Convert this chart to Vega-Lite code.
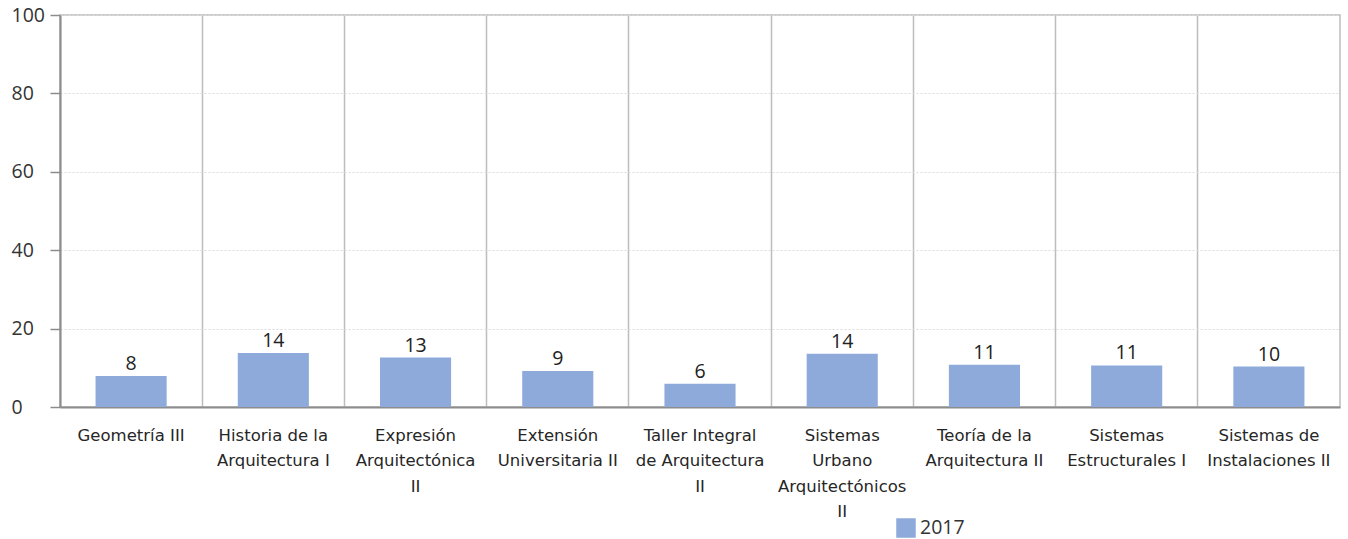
{
  "$schema": "https://vega.github.io/schema/vega-lite/v6.json",
  "width": 1280,
  "height": 392,
  "autosize": {"type": "none"},
  "padding": {"left": 60, "top": 15, "right": 8, "bottom": 132},
  "background": "white",
  "config": {
    "view": {"stroke": "#bdbdbd", "strokeWidth": 1.5},
    "font": "Open Sans"
  },
  "data": {
    "values": [
      {"asignatura": "Geometría III", "valor": 7.9, "anio": "2017"},
      {"asignatura": "Historia de la Arquitectura I", "valor": 13.8, "anio": "2017"},
      {"asignatura": "Expresión Arquitectónica II", "valor": 12.6, "anio": "2017"},
      {"asignatura": "Extensión Universitaria II", "valor": 9.2, "anio": "2017"},
      {"asignatura": "Taller Integral de Arquitectura II", "valor": 5.9, "anio": "2017"},
      {"asignatura": "Sistemas Urbano Arquitectónicos II", "valor": 13.6, "anio": "2017"},
      {"asignatura": "Teoría de la Arquitectura II", "valor": 10.8, "anio": "2017"},
      {"asignatura": "Sistemas Estructurales I", "valor": 10.6, "anio": "2017"},
      {"asignatura": "Sistemas de Instalaciones II", "valor": 10.3, "anio": "2017"}
    ]
  },
  "encoding": {
    "x": {
      "field": "asignatura",
      "type": "nominal",
      "sort": null,
      "scale": {"paddingInner": 0, "paddingOuter": 0},
      "axis": {
        "title": null,
        "labelAngle": 0,
        "labelFont": "DejaVu Sans",
        "labelFontSize": 16.5,
        "labelColor": "#262626",
        "labelPadding": 20,
        "labelLineHeight": 25.5,
        "labelBaseline": "top",
        "labelLimit": 200,
        "ticks": false,
        "domainColor": "#8c8c8c",
        "domainWidth": 2,
        "grid": true,
        "gridColor": "#bdbdbd",
        "gridWidth": 1.5,
        "bandPosition": 0,
        "labelExpr": "datum.value == 'Historia de la Arquitectura I' ? ['Historia de la', 'Arquitectura I'] : datum.value == 'Expresión Arquitectónica II' ? ['Expresión', 'Arquitectónica', 'II'] : datum.value == 'Extensión Universitaria II' ? ['Extensión', 'Universitaria II'] : datum.value == 'Taller Integral de Arquitectura II' ? ['Taller Integral', 'de Arquitectura', 'II'] : datum.value == 'Sistemas Urbano Arquitectónicos II' ? ['Sistemas', 'Urbano', 'Arquitectónicos', 'II'] : datum.value == 'Teoría de la Arquitectura II' ? ['Teoría de la', 'Arquitectura II'] : datum.value == 'Sistemas Estructurales I' ? ['Sistemas', 'Estructurales I'] : datum.value == 'Sistemas de Instalaciones II' ? ['Sistemas de', 'Instalaciones II'] : datum.value"
      }
    },
    "y": {
      "field": "valor",
      "type": "quantitative",
      "scale": {"domain": [0, 100], "nice": false},
      "axis": {
        "title": null,
        "values": [0, 20, 40, 60, 80, 100],
        "labelFont": "Open Sans",
        "labelFontSize": 19.5,
        "labelColor": "#333333",
        "labelAlign": "left",
        "labelPadding": 39,
        "tickSize": 10,
        "tickColor": "#8c8c8c",
        "tickWidth": 1.5,
        "domainColor": "#8c8c8c",
        "domainWidth": 2,
        "grid": true,
        "gridColor": "#dcdcdc",
        "gridDash": [2, 2],
        "gridWidth": 1.2
      }
    }
  },
  "layer": [
    {
      "mark": {"type": "bar", "width": {"band": 0.5}},
      "encoding": {
        "color": {
          "field": "anio",
          "type": "nominal",
          "scale": {"range": ["#8eaadb"]},
          "legend": {
            "title": null,
            "orient": "none",
            "legendX": 836,
            "legendY": 503,
            "symbolType": "square",
            "symbolSize": 380,
            "symbolStrokeWidth": 0,
            "labelFont": "Open Sans",
            "labelFontSize": 19.5,
            "labelColor": "#333333",
            "labelOffset": 4
          }
        }
      }
    },
    {
      "mark": {"type": "text", "baseline": "bottom", "dy": -2, "fontSize": 19.5, "font": "Open Sans", "color": "#222222"},
      "encoding": {
        "text": {"field": "valor", "type": "quantitative", "format": ".0f"}
      }
    }
  ]
}
